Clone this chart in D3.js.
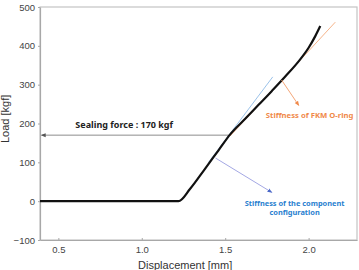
<!DOCTYPE html>
<html>
<head>
<meta charset="utf-8">
<script src="https://cdn.jsdelivr.net/npm/d3@7"></script>
<style>
  body { margin: 0; background: #fff; }
  svg { display: block; }
</style>
</head>
<body>
<svg id="chart" width="359" height="270"></svg>
<script>

// measured load curve: displacement [mm], load [kgf]
var disp = [0.39, 1.22, 1.29, 1.38, 1.46, 1.53, 1.62, 1.70, 1.78, 1.86, 1.94, 2.00, 2.04, 2.07];
var load = [0, 0, 32, 84, 131, 172, 212, 248, 284, 321, 360, 395, 425, 451];

// stiffness lines
var compLine = [[1.40, 100], [1.785, 320]];
var fkmLine = [[1.53, 168], [2.16, 461]];

// sealing force
var sealForce = 170;
var sealDisp = 1.53;

var xTicks = [0.5, 1.0, 1.5, 2.0];
var yTicks = [-100, 0, 100, 200, 300, 400, 500];

var margin = {top: 7, right: 2, bottom: 30, left: 40},
    width = 359 - margin.left - margin.right,
    height = 270 - margin.top - margin.bottom;

var svg = d3.select('#chart');
var g = svg.append('g')
           .attr('transform', 'translate(' + margin.left + ',' + margin.top + ')');

var x = d3.scaleLinear().domain([0.39, 2.29]).range([0, width]);
var y = d3.scaleLinear().domain([-100, 500]).range([height, 0]);

var font = '"Liberation Sans", Arial, sans-serif';
var axisColor = '#a8a8a8';

// frame
g.append('rect')
 .attr('x', 0).attr('y', 0)
 .attr('width', width).attr('height', height)
 .attr('fill', 'none')
 .attr('stroke', '#c4c4c4')
 .attr('stroke-width', 1.2);

// axes
var xAxis = g.append('g')
  .attr('transform', 'translate(0,' + height + ')')
  .call(d3.axisBottom(x).tickValues(xTicks).tickFormat(d3.format('.1f')).tickSizeInner(-2).tickSizeOuter(0).tickPadding(6));

var yAxis = g.append('g')
  .call(d3.axisLeft(y).tickValues(yTicks).tickSizeInner(2).tickSizeOuter(0).tickPadding(3));

[xAxis, yAxis].forEach(a => {
  a.select('.domain').attr('stroke', axisColor).attr('stroke-width', 1.2);
  a.selectAll('.tick line').attr('stroke', axisColor);
  a.selectAll('.tick text')
   .attr('fill', '#444')
   .attr('font-family', font)
   .attr('font-size', 9.5);
});

// axis titles
svg.append('text')
   .attr('x', margin.left + x(1.26))
   .attr('y', 269)
   .attr('text-anchor', 'middle')
   .attr('font-family', font)
   .attr('font-size', 11)
   .attr('fill', '#333')
   .text('Displacement [mm]');

svg.append('text')
   .attr('transform', 'translate(9,' + (margin.top + y(212)) + ') rotate(-90)')
   .attr('text-anchor', 'middle')
   .attr('font-family', font)
   .attr('font-size', 11)
   .attr('fill', '#333')
   .text('Load [kgf]');

// arrow markers
var defs = svg.append('defs');
function marker(id, color)
{
  defs.append('marker')
      .attr('id', id)
      .attr('viewBox', '0 0 10 10')
      .attr('refX', 8).attr('refY', 5)
      .attr('markerWidth', 5).attr('markerHeight', 5)
      .attr('orient', 'auto')
      .append('path')
      .attr('d', 'M0,1 L10,5 L0,9 Z')
      .attr('fill', color);
}
marker('arrow-gray', '#555');
marker('arrow-orange', '#f08a4b');
marker('arrow-blue', '#4a68c8');

var line = d3.line().x(d => x(d[0])).y(d => y(d[1]));

// sealing force guide
g.append('line')
 .attr('x1', x(sealDisp)).attr('y1', y(sealForce))
 .attr('x2', x(0.40)).attr('y2', y(sealForce))
 .attr('stroke', '#8c8c8c')
 .attr('stroke-width', 1)
 .attr('marker-end', 'url(#arrow-gray)');

g.append('text')
 .attr('x', x(0.602))
 .attr('y', y(188))
 .attr('font-family', '"Noto Sans", sans-serif')
 .attr('font-weight', 'bold')
 .attr('font-size', 9)
 .attr('fill', '#222')
 .text('Sealing force : 170 kgf');

// stiffness lines
g.append('path')
 .datum(compLine)
 .attr('d', line)
 .attr('fill', 'none')
 .attr('stroke', '#9cc3ea')
 .attr('stroke-width', 1);

g.append('path')
 .datum(fkmLine)
 .attr('d', line)
 .attr('fill', 'none')
 .attr('stroke', '#f6b48a')
 .attr('stroke-width', 1);

// load curve
g.append('path')
 .datum(disp.map((d, i) => [d, load[i]]))
 .attr('d', d3.line().x(d => x(d[0])).y(d => y(d[1])).curve(d3.curveMonotoneX))
 .attr('fill', 'none')
 .attr('stroke', '#111')
 .attr('stroke-width', 2.2)
 .attr('stroke-linejoin', 'round');

// annotations
g.append('line')
 .attr('x1', x(1.838)).attr('y1', y(312))
 .attr('x2', x(1.94)).attr('y2', y(247))
 .attr('stroke', '#f4a678')
 .attr('stroke-width', 1)
 .attr('marker-end', 'url(#arrow-orange)');

g.append('text')
 .attr('x', x(2.006))
 .attr('y', y(213))
 .attr('text-anchor', 'middle')
 .attr('font-family', '"Noto Sans", sans-serif')
 .attr('font-weight', 'bold')
 .attr('font-size', 7.7)
 .attr('fill', '#f08a4b')
 .text('Stiffness of FKM O-ring');

g.append('line')
 .attr('x1', x(1.442)).attr('y1', y(111))
 .attr('x2', x(1.778)).attr('y2', y(23))
 .attr('stroke', '#a4a8e4')
 .attr('stroke-width', 1)
 .attr('marker-end', 'url(#arrow-blue)');

var blueText = g.append('text')
 .attr('text-anchor', 'middle')
 .attr('font-family', '"Noto Sans", sans-serif')
 .attr('font-weight', 'bold')
 .attr('font-size', 7.4)
 .attr('fill', '#2a7fcf');

blueText.append('tspan')
 .attr('x', x(1.916)).attr('y', y(-12))
 .text('Stiffness of the component');
blueText.append('tspan')
 .attr('x', x(1.916)).attr('y', y(-36))
 .text('configuration');

</script>
</body>
</html>
